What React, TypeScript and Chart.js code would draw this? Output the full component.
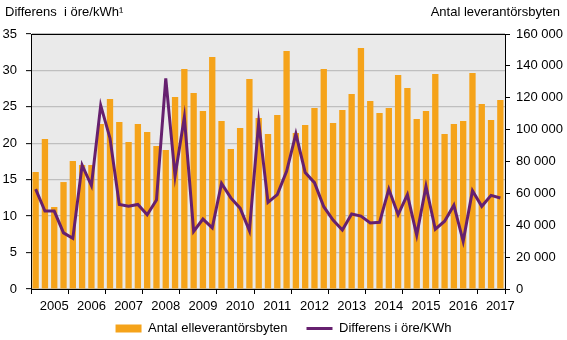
import React, { useEffect, useRef } from "react";
import { Chart, registerables } from "chart.js";

Chart.register(...registerables);

// Quarterly categories, 2004 K3 .. 2017 K1
const quarters: string[] = [
  "2004K3", "2004K4",
  "2005K1", "2005K2", "2005K3", "2005K4",
  "2006K1", "2006K2", "2006K3", "2006K4",
  "2007K1", "2007K2", "2007K3", "2007K4",
  "2008K1", "2008K2", "2008K3", "2008K4",
  "2009K1", "2009K2", "2009K3", "2009K4",
  "2010K1", "2010K2", "2010K3", "2010K4",
  "2011K1", "2011K2", "2011K3", "2011K4",
  "2012K1", "2012K2", "2012K3", "2012K4",
  "2013K1", "2013K2", "2013K3", "2013K4",
  "2014K1", "2014K2", "2014K3", "2014K4",
  "2015K1", "2015K2", "2015K3", "2015K4",
  "2016K1", "2016K2", "2016K3", "2016K4",
  "2017K1",
];

// Antal elleverantörsbyten (right axis)
const switches: number[] = [
  73400, 94100,
  51450, 67100, 80300, 77800,
  77800, 103500, 119200, 104800,
  92200, 103500, 98500, 89700,
  87200, 120500, 138000, 123000,
  111700, 145600, 105400, 87800,
  101000, 131800, 107300, 97250,
  109200, 149300, 97900, 102900,
  113600, 138000, 104200, 112300,
  122400, 151200, 118000, 110400,
  113600, 134300, 126100, 106700,
  111700, 134900, 97250, 103500,
  105400, 135500, 116100, 106000,
  118600,
];

// Differens i öre/kWh (left axis)
const diff: number[] = [
  13.7, 10.7,
  10.7, 7.7, 6.95, 17.0,
  14.2, 25.2, 20.7, 11.6,
  11.35, 11.6, 10.2, 12.2,
  28.9, 15.5, 23.6, 7.9,
  9.6, 8.4, 14.5, 12.5,
  11.1, 8.0, 22.9, 11.9,
  12.95, 16.15, 21.3, 16.0,
  14.6, 11.3, 9.45, 8.1,
  10.3, 10.0, 9.05, 9.15,
  13.7, 10.2, 12.95, 7.4,
  14.1, 8.2, 9.3, 11.5,
  6.55, 13.5, 11.35, 12.85,
  12.5,
];

const leftTitle = "Differens  i öre/kWh¹";
const rightTitle = "Antal leverantörsbyten";
const barLabel = "Antal elleverantörsbyten";
const lineLabel = "Differens i öre/KWh";

const FONT = '"Liberation Sans", Arial, sans-serif';
const ORANGE = "#F5A31A";
const PURPLE = "#66206F";

const fmtThousands = (v: number) =>
  String(Math.round(v)).replace(/\B(?=(\d{3})+(?!\d))/g, " ");

export default function App() {
  const ref = useRef<HTMLCanvasElement | null>(null);

  useEffect(() => {
    document.body.style.margin = "0";
    const canvas = ref.current;
    if (!canvas) return;

    const decor = {
      id: "decor",
      beforeDraw(chart: any) {
        const { ctx, chartArea: a } = chart;
        ctx.save();
        ctx.fillStyle = "#EAEAEA";
        ctx.fillRect(a.left, a.top, a.right - a.left, a.bottom - a.top);
        ctx.restore();
      },
      afterLayout(chart: any) {
        const l = chart.legend;
        if (l) {
          const h = l.height;
          l.top = 303;
          l.bottom = l.top + h;
        }
      },
      afterDraw(chart: any) {
        const { ctx, chartArea: a } = chart;
        ctx.save();
        ctx.strokeStyle = "#000";
        ctx.lineWidth = 1;
        ctx.beginPath();
        ctx.moveTo(a.left, Math.round(a.top) + 0.5);
        ctx.lineTo(a.right, Math.round(a.top) + 0.5);
        ctx.stroke();
        ctx.fillStyle = "#000";
        ctx.font = `13px ${FONT}`;
        ctx.textBaseline = "middle";
        ctx.textAlign = "left";
        ctx.fillText(leftTitle, 5, 12);
        ctx.textAlign = "right";
        ctx.fillText(rightTitle, 560, 12);
        ctx.restore();
      },
    };

    const chart = new Chart(canvas, {
      type: "bar",
      data: {
        labels: quarters,
        datasets: [
          {
            type: "bar",
            label: barLabel,
            data: switches,
            yAxisID: "y1",
            backgroundColor: ORANGE,
            borderWidth: 0,
            barPercentage: 0.68,
            categoryPercentage: 1,
            pointStyle: "rect",
            order: 2,
          } as any,
          {
            type: "line",
            label: lineLabel,
            data: diff,
            yAxisID: "y",
            borderColor: PURPLE,
            backgroundColor: PURPLE,
            borderWidth: 3,
            pointRadius: 0,
            pointHoverRadius: 0,
            pointStyle: "line",
            tension: 0,
            order: 1,
          } as any,
        ],
      },
      options: {
        responsive: false,
        animation: false,
        layout: { padding: { top: 34, left: 0, right: 0, bottom: -16 } },
        font: { family: FONT, size: 13 },
        color: "#000",
        plugins: {
          tooltip: { enabled: false },
          title: { display: false },
          legend: {
            position: "bottom",
            labels: {
              usePointStyle: true,
              pointStyleWidth: 26,
              boxHeight: 8,
              padding: 19,
              color: "#000",
              font: { family: FONT, size: 13 },
              sort: (a: any, b: any) => a.datasetIndex - b.datasetIndex,
            },
          },
        },
        scales: {
          x: {
            type: "category",
            offset: true,
            afterFit: (s: any) => {
              s.height = 25;
            },
            border: { display: true, color: "#000", width: 1 },
            grid: {
              offset: true,
              drawOnChartArea: false,
              drawTicks: true,
              tickLength: 5,
              tickWidth: 1,
              tickColor: (c: any) =>
                c.index === undefined || c.index % 4 === 0 ? "#000" : "rgba(0,0,0,0)",
            },
            ticks: {
              autoSkip: false,
              maxRotation: 0,
              minRotation: 0,
              padding: 5,
              color: "#000",
              font: { family: FONT, size: 13 },
              callback: (_v: any, i: number) =>
                quarters[i].endsWith("K1") ? quarters[i].slice(0, 4) : "",
            },
          },
          y: {
            type: "linear",
            position: "left",
            min: 0,
            max: 35,
            afterFit: (s: any) => {
              s.width = 31;
            },
            border: { display: true, color: "#000", width: 1 },
            grid: {
              color: "#BFBFBF",
              lineWidth: 1.3,
              drawTicks: true,
              tickLength: 5,
              tickColor: "#000",
              tickWidth: 1,
            },
            ticks: {
              stepSize: 5,
              padding: 9,
              color: "#000",
              font: { family: FONT, size: 13 },
            },
          },
          y1: {
            type: "linear",
            position: "right",
            min: 0,
            max: 160000,
            afterFit: (s: any) => {
              s.width = 62;
            },
            border: { display: true, color: "#000", width: 1 },
            grid: {
              drawOnChartArea: false,
              drawTicks: true,
              tickLength: 5,
              tickColor: "#000",
              tickWidth: 1,
            },
            ticks: {
              stepSize: 20000,
              padding: 6,
              color: "#000",
              font: { family: FONT, size: 13 },
              callback: (v: any) => fmtThousands(Number(v)),
            },
          },
        },
      } as any,
      plugins: [decor],
    });

    return () => chart.destroy();
  }, []);

  return (
    <div style={{ width: 567, height: 340 }}>
      <canvas ref={ref} width={567} height={340} style={{ display: "block" }} />
    </div>
  );
}
